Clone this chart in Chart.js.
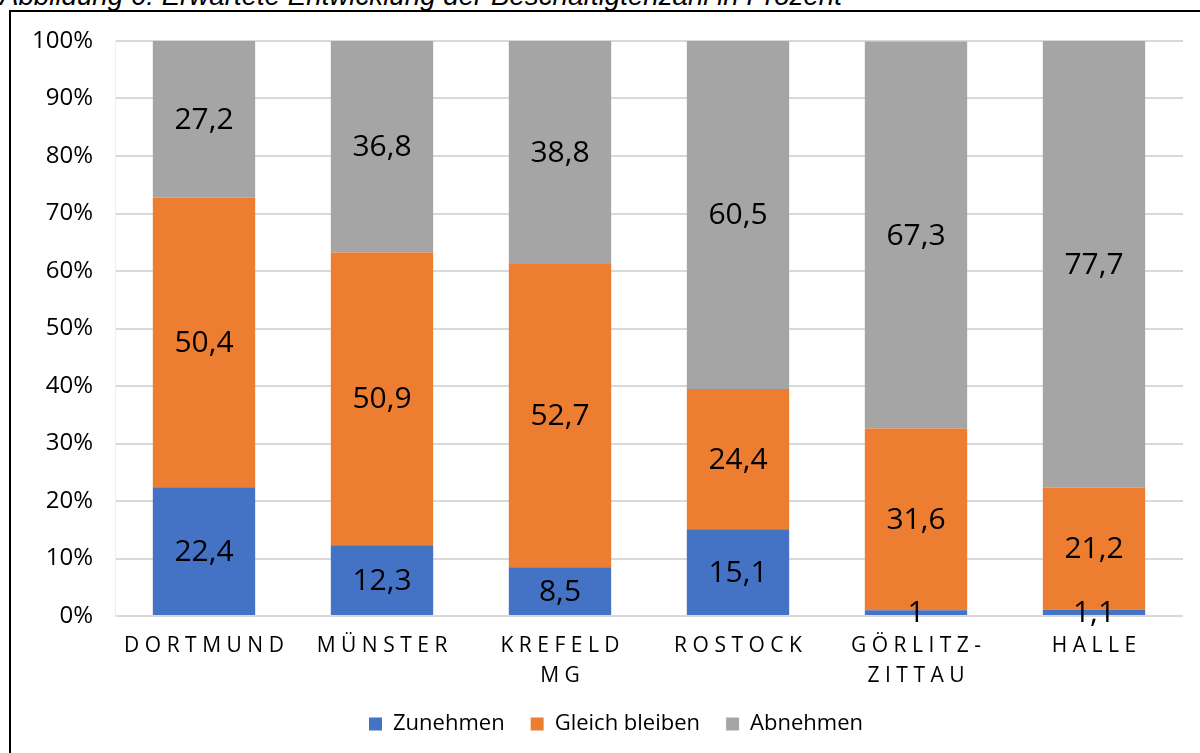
<!DOCTYPE html>
<html>
<head>
<meta charset="utf-8">
<script src="https://cdn.jsdelivr.net/npm/chart.js@4"></script>
<style>
  body { margin: 0; background: #fff; }
  #wrap { position: relative; width: 1200px; height: 753px; overflow: hidden; }
  #title { position: absolute; left: 0; top: -20px; font: italic 27.7px "Liberation Sans", Arial, sans-serif; color: #000; white-space: nowrap; }
  #frame { position: absolute; left: 9px; top: 10px; width: 1300px; height: 800px; border: 2px solid #000; box-sizing: border-box; }
  #chart { position: absolute; left: 0; top: 0; }
</style>
</head>
<body>
<div id="wrap">
  <div id="title">Abbildung 6: Erwartete Entwicklung der Beschäftigtenzahl in Prozent</div>
  <div id="frame"></div>
  <canvas id="chart" width="1200" height="753"></canvas>
</div>
<script>
const categories = [["DORTMUND"], ["MÜNSTER"], ["KREFELD", "MG"], ["ROSTOCK"], ["GÖRLITZ-", "ZITTAU"], ["HALLE"]]
const zunehmen = [22.4, 12.3, 8.5, 15.1, 1, 1.1]
const gleichBleiben = [50.4, 50.9, 52.7, 24.4, 31.6, 21.2]
const abnehmen = [27.2, 36.8, 38.8, 60.5, 67.3, 77.7]
const yTicks = [0, 10, 20, 30, 40, 50, 60, 70, 80, 90, 100]

const fontFamily = '"Open Sans", "Noto Sans", sans-serif'

// values written into the middle of each segment
const barLabels = {
  id: 'barLabels',
  afterDatasetsDraw(chart) {
    const ctx = chart.ctx
    ctx.save()
    ctx.font = `30px ${fontFamily}`
    ctx.fillStyle = '#000'
    ctx.textAlign = 'center'
    ctx.textBaseline = 'middle'
    chart.data.datasets.forEach((ds, i) => {
      chart.getDatasetMeta(i).data.forEach((bar, j) => {
        const txt = String(ds.data[j]).replace('.', ',')
        ctx.fillText(txt, bar.x, (bar.y + bar.base) / 2 + 1)
      })
    })
    ctx.restore()
  }
}

// category names with wide letter spacing
const spacedLabels = {
  id: 'spacedLabels',
  afterDraw(chart) {
    const ctx = chart.ctx
    const x = chart.scales.x
    const spacing = 5.5
    ctx.save()
    ctx.font = `21px ${fontFamily}`
    ctx.fillStyle = '#000'
    ctx.textAlign = 'center'
    ctx.textBaseline = 'middle'
    ctx.letterSpacing = spacing + 'px'
    categories.forEach((lines, i) => {
      const cx = x.getPixelForValue(i) + spacing / 2
      lines.forEach((line, k) => {
        ctx.fillText(line, cx, chart.chartArea.bottom + 30 + k * 30)
      })
    })
    ctx.restore()
  }
}

// legend sits a little right of the canvas centre in the original
const legendShift = {
  id: 'legendShift',
  afterLayout(chart) {
    chart.legend.left += 12
    chart.legend.right += 12
  }
}

new Chart(document.getElementById('chart').getContext('2d'), {
  type: 'bar',
  data: {
    labels: categories.map(c => c.join(' ')),
    datasets: [
      { label: 'Zunehmen', data: zunehmen, backgroundColor: '#4472C4' },
      { label: 'Gleich bleiben', data: gleichBleiben, backgroundColor: '#ED7D31' },
      { label: 'Abnehmen', data: abnehmen, backgroundColor: '#A5A5A5' }
    ]
  },
  options: {
    responsive: false,
    animation: false,
    layout: { padding: { top: 41, right: 17, bottom: 8, left: 25 } },
    datasets: { bar: { barPercentage: 0.575, categoryPercentage: 1 } },
    scales: {
      x: {
        stacked: true,
        grid: { display: false },
        border: { display: false },
        ticks: { display: false },
        afterFit: s => { s.height = 71 }
      },
      y: {
        stacked: true,
        min: 0,
        max: 100,
        afterFit: s => { s.width = 90 },
        afterBuildTicks: s => { s.ticks = yTicks.map(v => ({ value: v })) },
        grid: { color: '#d9d9d9', lineWidth: 2, drawTicks: false },
        border: { display: true, color: '#eeeeee' },
        ticks: {
          padding: 22,
          color: '#000',
          font: { family: fontFamily, size: 24 },
          callback: v => v + '%'
        }
      }
    },
    plugins: {
      legend: {
        position: 'bottom',
        labels: {
          boxWidth: 13,
          boxHeight: 13,
          padding: 26,
          color: '#000',
          font: { family: fontFamily, size: 22 }
        }
      },
      tooltip: { enabled: false }
    }
  },
  plugins: [barLabels, spacedLabels, legendShift]
})
</script>
</body>
</html>
